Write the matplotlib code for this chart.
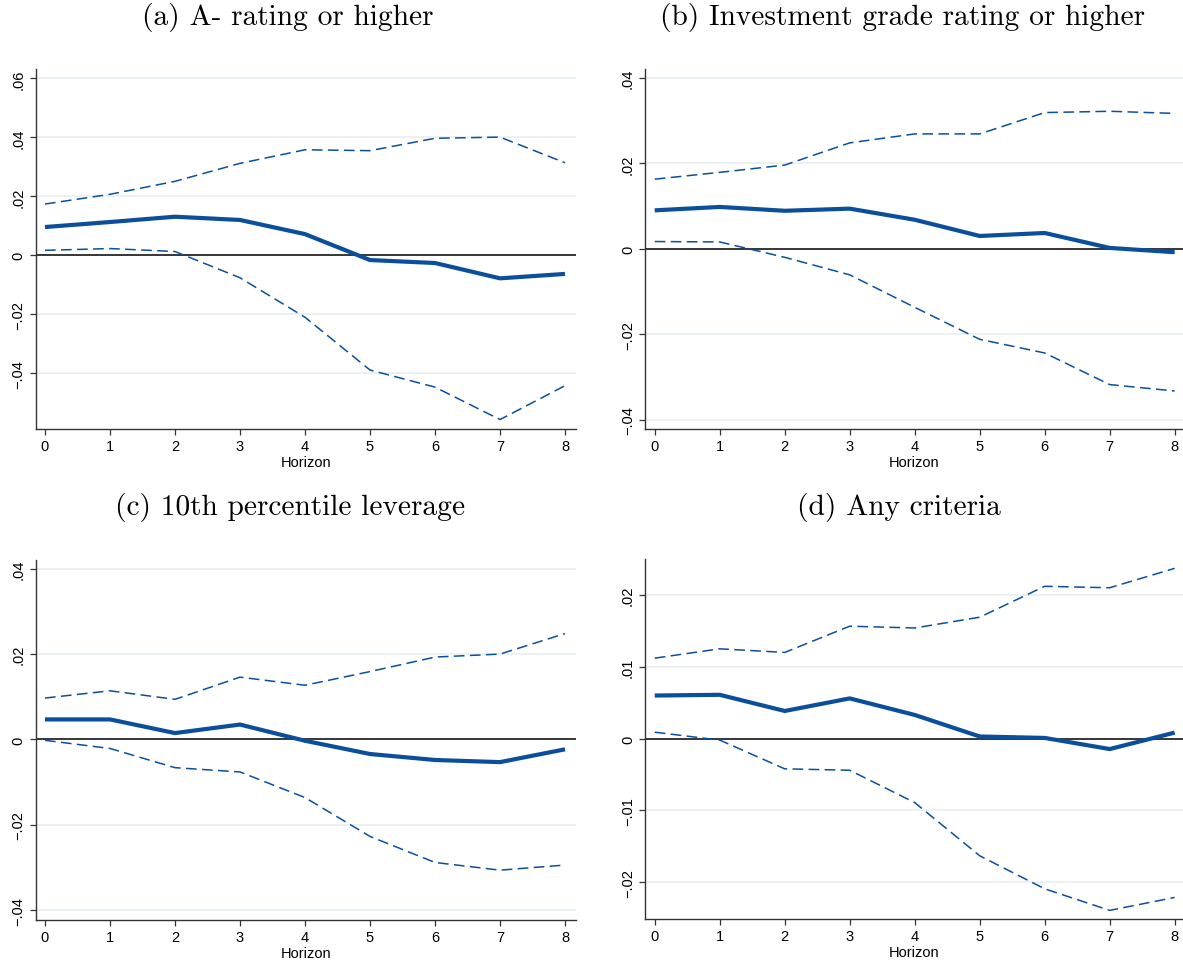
import matplotlib
matplotlib.use("Agg")
import matplotlib.pyplot as plt
from matplotlib.ticker import FixedLocator, FixedFormatter

# Local projection estimates by horizon with 90% confidence bands
horizon = [0, 1, 2, 3, 4, 5, 6, 7, 8]

a_coef = [0.0096, 0.0113, 0.0131, 0.0120, 0.0072, -0.0016, -0.0026, -0.0078, -0.0063]
a_upper = [0.0174, 0.0207, 0.0251, 0.0312, 0.0358, 0.0355, 0.0397, 0.0401, 0.0314]
a_lower = [0.0017, 0.0023, 0.0013, -0.0076, -0.0210, -0.0389, -0.0447, -0.0557, -0.0442]

b_coef = [0.0090, 0.0098, 0.0089, 0.0094, 0.0068, 0.0030, 0.0037, 0.0002, -0.0008]
b_upper = [0.0163, 0.0179, 0.0196, 0.0248, 0.0269, 0.0269, 0.0319, 0.0322, 0.0317]
b_lower = [0.0017, 0.0016, -0.0020, -0.0061, -0.0137, -0.0212, -0.0244, -0.0318, -0.0333]

c_coef = [0.0047, 0.0047, 0.0015, 0.0035, -0.0003, -0.0034, -0.0048, -0.0053, -0.0023]
c_upper = [0.0097, 0.0114, 0.0094, 0.0146, 0.0127, 0.0159, 0.0193, 0.0200, 0.0248]
c_lower = [-0.0002, -0.0021, -0.0066, -0.0076, -0.0136, -0.0227, -0.0288, -0.0306, -0.0294]

d_coef = [0.0060, 0.0061, 0.00385, 0.0056, 0.0033, 0.0003, 0.0001, -0.00145, 0.00084]
d_upper = [0.0112, 0.0125, 0.0120, 0.01565, 0.0154, 0.0169, 0.0212, 0.0210, 0.0237]
d_lower = [0.0009, -0.0002, -0.0042, -0.0044, -0.0089, -0.0163, -0.0209, -0.0239, -0.0221]

titles = ["(a) A- rating or higher",
          "(b) Investment grade rating or higher",
          "(c) 10th percentile leverage",
          "(d) Any criteria"]

yticks_ab = [-0.04, -0.02, 0.0, 0.02, 0.04, 0.06]
ylabels_a = ["\u2212.04", "\u2212.02", "0", ".02", ".04", ".06"]
yticks_bc = [-0.04, -0.02, 0.0, 0.02, 0.04]
ylabels_bc = ["\u2212.04", "\u2212.02", "0", ".02", ".04"]
yticks_d = [-0.02, -0.01, 0.0, 0.01, 0.02]
ylabels_d = ["\u2212.02", "\u2212.01", "0", ".01", ".02"]

W, H = 1183, 962
LINE = "#0b4f9c"
GRID = "#e8eff2"
SANS = ["Liberation Sans", "DejaVu Sans"]

fig = plt.figure(figsize=(W / 100, H / 100), dpi=100)
fig.patch.set_facecolor("white")


def rect(l, r, t, b):
    return [l / W, 1 - b / H, (r - l) / W, (b - t) / H]


panels = [
    dict(box=rect(36, 576, 70, 430), xlim=(-0.138, 8.169), ylim=(-0.0589, 0.0632),
         coef=a_coef, up=a_upper, lo=a_lower, yt=yticks_ab, yl=ylabels_a,
         title=titles[0], tx=288, ty=18),
    dict(box=rect(645.3, 1183, 70, 430), xlim=(-0.145, 8.128), ylim=(-0.0422, 0.0421),
         coef=b_coef, up=b_upper, lo=b_lower, yt=yticks_bc, yl=ylabels_bc,
         title=titles[1], tx=902, ty=18),
    dict(box=rect(36, 576, 560.7, 920.7), xlim=(-0.138, 8.169), ylim=(-0.0422, 0.0421),
         coef=c_coef, up=c_upper, lo=c_lower, yt=yticks_bc, yl=ylabels_bc,
         title=titles[2], tx=290, ty=508),
    dict(box=rect(645.3, 1183, 560, 920), xlim=(-0.145, 8.128), ylim=(-0.0251, 0.0250),
         coef=d_coef, up=d_upper, lo=d_lower, yt=yticks_d, yl=ylabels_d,
         title=titles[3], tx=899, ty=508),
]

for p in panels:
    ax = fig.add_axes(p["box"])
    ax.set_xlim(*p["xlim"])
    ax.set_ylim(*p["ylim"])
    for yv in p["yt"]:
        if yv != 0:
            ax.axhline(yv, color=GRID, lw=1.3, zorder=0)
    ax.axhline(0, color="black", lw=1.1, zorder=1)
    ax.plot(horizon, p["up"], color=LINE, lw=1.1, dashes=(7, 3.5), zorder=2)
    ax.plot(horizon, p["lo"], color=LINE, lw=1.1, dashes=(7, 3.5), zorder=2)
    ax.plot(horizon, p["coef"], color=LINE, lw=3.0, solid_capstyle="butt", zorder=3)

    for side in ("top", "right"):
        ax.spines[side].set_visible(False)
    for side in ("left", "bottom"):
        ax.spines[side].set_color("#333333")
        ax.spines[side].set_linewidth(1.0)

    ax.xaxis.set_major_locator(FixedLocator(horizon))
    ax.xaxis.set_major_formatter(FixedFormatter([str(h) for h in horizon]))
    ax.yaxis.set_major_locator(FixedLocator(p["yt"]))
    ax.yaxis.set_major_formatter(FixedFormatter(p["yl"]))
    ax.tick_params(axis="both", direction="out", length=4.5, width=0.9,
                   color="#333333", labelsize=10.5, pad=3)
    for lab in ax.get_xticklabels() + ax.get_yticklabels():
        lab.set_fontfamily(SANS)
    for lab in ax.get_yticklabels():
        lab.set_rotation(90)
        lab.set_va("center")
    ax.set_xlabel("Horizon", fontsize=10.5, family=SANS, labelpad=1)

    fig.text(p["tx"] / W, 1 - p["ty"] / H, p["title"], ha="center", va="center",
             fontsize=21.2, family="cmr10")

fig.savefig("out.png", dpi=100, facecolor="white")
